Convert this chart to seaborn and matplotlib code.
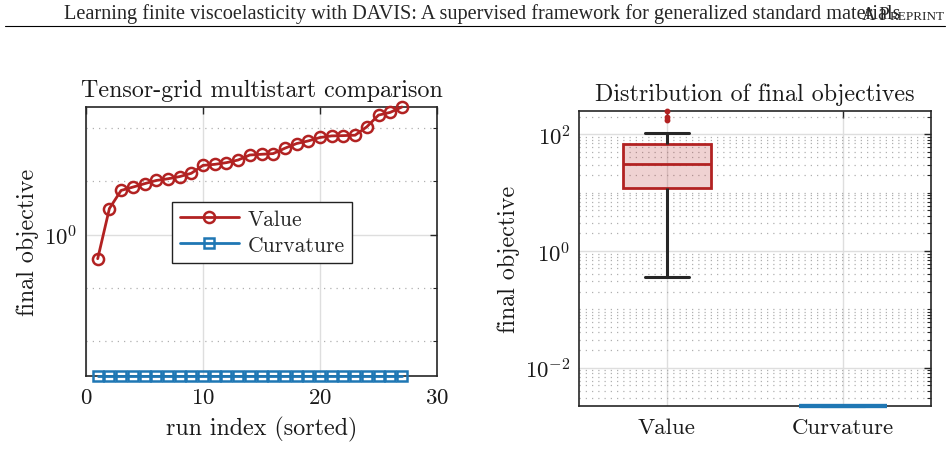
import numpy as np
import pandas as pd
import matplotlib
matplotlib.use("Agg")
import matplotlib.pyplot as plt
import matplotlib.ticker as mticker
import seaborn as sns

# final objective per run, sorted
run_index = list(range(1, 28))
value_obj = [0.352, 3.09, 6.76, 7.80, 9.05, 10.4, 11.2, 12.3, 14.2, 20.0,
             20.9, 22.5, 25.2, 31.3, 32.3, 33.3, 42.0, 51.4, 57.6, 66.8,
             71.6, 72.5, 73.8, 106.0, 176.0, 198.0, 250.0]
curv_obj = [0.0022, 0.0022, 0.0022, 0.0022, 0.0022, 0.0022, 0.0022, 0.0022, 0.0022,
            0.0022, 0.0022, 0.0022, 0.0022, 0.0022, 0.0022, 0.0022, 0.0022, 0.0022,
            0.0022, 0.0022, 0.0022, 0.0022, 0.0022, 0.0022, 0.0022, 0.0022, 0.0022]
methods = ["Value", "Curvature"]
x_ticks = [0, 10, 20, 30]

red = "#b22222"
blue = "#1f77b4"
dark = "#262626"
txt = "#1a1a1a"

sns.set_style("white")
plt.rcParams["font.family"] = ["cmr10"]
plt.rcParams["mathtext.fontset"] = "cm"
plt.rcParams["axes.formatter.use_mathtext"] = True
plt.rcParams["axes.unicode_minus"] = False

df = pd.DataFrame({
    "run": run_index + run_index,
    "obj": value_obj + curv_obj,
    "method": ["Value"] * len(value_obj) + ["Curvature"] * len(curv_obj),
})
ylo, yhi = df["obj"].min(), df["obj"].max()


def pow10(v, pos):
    return r"$10^{%d}$" % int(round(np.log10(v)))


def style_axes(ax):
    for s in ax.spines.values():
        s.set_color(dark)
        s.set_linewidth(1.2)
    ax.tick_params(which="both", direction="in", top=True, right=True,
                   colors=dark, labelcolor=txt, labelsize=16.5)
    ax.tick_params(which="major", length=5, width=1.0)
    ax.tick_params(which="minor", length=3, width=0.8)
    ax.tick_params(axis="x", which="both", pad=8.5)
    ax.tick_params(axis="y", which="both", pad=6)
    ax.grid(which="major", color="#dedede", lw=1.0, ls="-")
    ax.grid(which="minor", axis="y", color="#b0b0b0", lw=0.9, ls=(0, (1, 4)))
    ax.set_axisbelow(True)


fig = plt.figure(figsize=(9.48, 4.56), dpi=100)

# running header
base_y = 1 - 19.5 / 456
fig.text(64 / 948, base_y, "Learning finite viscoelasticity with DAVIS: A supervised framework for generalized standard materials",
         family="Liberation Serif", fontsize=14.6, va="baseline", ha="left")
r_small = fig.text(945 / 948, base_y, "REPRINT", family="Liberation Serif", fontsize=9.5,
                   va="baseline", ha="right")
renderer = fig.canvas.get_renderer()
x_small = r_small.get_window_extent(renderer).x0 / fig.bbox.width
fig.text(x_small, base_y, "A P", family="Liberation Serif", fontsize=13.5, va="baseline", ha="right")
fig.add_artist(plt.Line2D([5 / 948, 945 / 948], [1 - 27 / 456, 1 - 27 / 456], color="black", lw=0.8))

# left: sorted runs
ax1 = fig.add_axes([86 / 948, 1 - 377 / 456, 351 / 948, 269 / 456])
sns.lineplot(data=df[df.method == "Value"], x="run", y="obj", ax=ax1, errorbar=None,
             color=red, lw=2.0, marker="o", ms=8.0, mfc="none", mec=red, mew=1.8,
             clip_on=False, label="Value", zorder=5)
sns.lineplot(data=df[df.method == "Curvature"], x="run", y="obj", ax=ax1, errorbar=None,
             color=blue, lw=2.0, marker="s", ms=7.0, mfc="none", mec=blue, mew=1.8,
             clip_on=False, label="Curvature", zorder=6)
ax1.set_yscale("log")
ax1.set_xlim(0, 30)
ax1.set_ylim(ylo, yhi)
ax1.set_xticks(x_ticks)
ax1.yaxis.set_major_locator(mticker.FixedLocator([1.0]))
ax1.yaxis.set_minor_locator(mticker.FixedLocator([1e-2, 1e-1, 1e1, 1e2]))
ax1.yaxis.set_major_formatter(mticker.FuncFormatter(pow10))
ax1.yaxis.set_minor_formatter(mticker.NullFormatter())
style_axes(ax1)
ax1.set_title("Tensor-grid multistart comparison", fontsize=17.3, color=txt, pad=8)
ax1.set_xlabel("run index (sorted)", fontsize=17.3, color=txt, labelpad=6)
ax1.set_ylabel("final objective", fontsize=17.3, color=txt, labelpad=4)
leg = ax1.legend(loc="upper left", bbox_to_anchor=(0.245, 0.647), frameon=True, fancybox=False,
                 edgecolor="#222222", framealpha=1, fontsize=15.5, handlelength=2.75,
                 borderpad=0.35, labelspacing=0.3, handletextpad=0.4, borderaxespad=0)
leg.get_frame().set_linewidth(1.0)

# right: distribution
ax2 = fig.add_axes([579 / 948, 1 - 407 / 456, 352 / 948, 295 / 456])
box_cfg = {"Value": (red, dark, 2.0), "Curvature": (blue, blue, 3.0)}
for name in methods:
    c, wc, lw = box_cfg[name]
    n_patch, n_line = len(ax2.patches), len(ax2.lines)
    sns.boxplot(data=df[df.method == name], x="method", y="obj", order=methods, ax=ax2,
                width=0.5, color=c, linewidth=lw,
                boxprops=dict(edgecolor=c, linewidth=lw),
                medianprops=dict(color=c, linewidth=lw),
                whiskerprops=dict(color=wc, linewidth=2.2),
                capprops=dict(color=wc, linewidth=2.2),
                flierprops=dict(marker="o", markersize=3.2, markerfacecolor=c,
                                markeredgecolor=c))
    for p in ax2.patches[n_patch:]:
        p.set_facecolor(matplotlib.colors.to_rgba(c, 0.2))
        p.set_clip_on(False)
        p.set_zorder(4)
    for ln in ax2.lines[n_line:]:
        ln.set_clip_on(False)
        ln.set_zorder(4)
ax2.set_yscale("log")
ax2.set_ylim(ylo, yhi)
ax2.set_xlim(-0.5, 1.5)
ax2.yaxis.set_major_locator(mticker.FixedLocator([1e-2, 1.0, 1e2]))
minors = [m * 10.0 ** e for e in range(-3, 3) for m in range(1, 10)]
minors = [v for v in minors if v not in (1e-2, 1.0, 1e2)]
ax2.yaxis.set_minor_locator(mticker.FixedLocator(minors))
ax2.yaxis.set_major_formatter(mticker.FuncFormatter(pow10))
ax2.yaxis.set_minor_formatter(mticker.NullFormatter())
style_axes(ax2)
ax2.set_title("Distribution of final objectives", fontsize=17.3, color=txt, pad=8)
ax2.set_xlabel("")
ax2.set_ylabel("final objective", fontsize=17.3, color=txt, labelpad=4)

fig.savefig("out.png", dpi=100)
